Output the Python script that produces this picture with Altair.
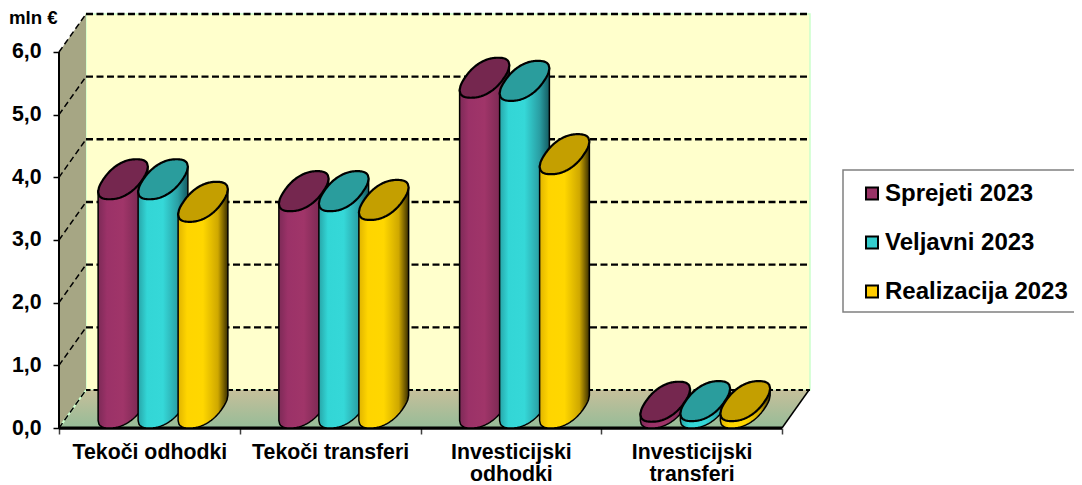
import altair as alt
import numpy as np
import pandas as pd

categories = ["Tekoči odhodki", "Tekoči transferi", "Investicijski\nodhodki", "Investicijski\ntransferi"]
series = ["Sprejeti 2023", "Veljavni 2023", "Realizacija 2023"]
sprejeti = [3.65, 3.46, 5.27, 0.10]
veljavni = [3.65, 3.46, 5.22, 0.11]
realizacija = [3.29, 3.32, 4.05, 0.11]
y_ticks = [0, 1, 2, 3, 4, 5, 6]
legend_colors = ["#993366", "#33CCCC", "#FFCC00"]
top_colors = ["#75274F", "#2A9D9D", "#C49F00"]
body_stops = [
    ["#7D2A57", "#9B3268", "#A03569", "#7E2A55", "#2B0F1F"],
    ["#27A5A8", "#33D6D6", "#35D8D8", "#2A9FA4", "#145A60"],
    ["#E0B400", "#FFD500", "#FFD700", "#CFA800", "#3A2E00"],
]
wall_color = "#A6A684"
back_color = "#FFFFCC"
edge_color = "#CCFFCC"
FONT = "Liberation Sans"

# plot geometry: pixels per unit of each scale, oblique depth of the floor
UX, UY = 180.75, 62.67
W, H = 751, 414
DX, DY = 27 / UX, 38 / UY
XMAX, YMAX = W / UX, H / UY
AX, BX, BY = 19.6 / UX, 13.5 / UX, 20 / UY   # floor circle in oblique view
HALF = 25 / UX
TILT = 11.4 / UY                             # y offset of tangent points
BAR_START, BAR_STEP = (98 - 59) / UX, 40 / UX
sx = alt.Scale(domain=[0, XMAX], nice=False, zero=False)
sy = alt.Scale(domain=[0, YMAX], nice=False, zero=False)
X = alt.X("x:Q", scale=sx, axis=None)
Y = alt.Y("y:Q", scale=sy, axis=None)
Y2 = alt.Y2("y2:Q")


def ellipse_bounds(cx, cy):
    # slightly squared ellipse, as the 3D renderer of the original draws it
    t = np.linspace(0, 2 * np.pi, 721)
    p = 0.86
    c = np.sign(np.cos(t)) * np.abs(np.cos(t)) ** p
    s = np.sign(np.sin(t)) * np.abs(np.sin(t)) ** p
    u = AX * c + BX * s
    v = BY * s
    i_max = np.argmax(u)
    order = np.roll(np.arange(len(t)), -i_max)
    u, v = u[order], v[order]
    split = np.argmin(u)
    u_up, v_up = u[:split + 1][::-1], v[:split + 1][::-1]
    u_lo, v_lo = u[split:], v[split:]
    xs = np.linspace(u.min(), u.max(), 61)
    return cx + xs, cy + np.interp(xs, u_lo, v_lo), cy + np.interp(xs, u_up, v_up)


def series_layers(values, idx):
    tops, bodies = [], []
    for c, v in enumerate(values):
        cx = c + BAR_START + HALF + idx * BAR_STEP
        base = BY
        xs, low, up = ellipse_bounds(cx, base + v)
        tops += [dict(x=a, y=b, y2=d, c=c) for a, b, d in zip(xs, low, up)]
        _, blow, _ = ellipse_bounds(cx, base)
        chord = base + v + TILT * (xs - cx) / HALF
        bodies += [dict(x=a, y=b, y2=d, c=c) for a, b, d in zip(xs, blow, chord)]
    stops = body_stops[idx]
    grad = alt.Gradient(
        gradient="linear", x1=0, x2=1, y1=0, y2=0,
        stops=[alt.GradientStop(offset=o, color=col)
               for o, col in zip([0, 0.18, 0.5, 0.8, 1], stops)],
    )
    body = alt.Chart(pd.DataFrame(bodies)).mark_area(
        fill=grad, stroke="black", strokeWidth=1.5, clip=False
    ).encode(x=X, y=Y, y2=Y2, detail="c:N")
    top = alt.Chart(pd.DataFrame(tops)).mark_area(
        fill=top_colors[idx], stroke="black", strokeWidth=2.2
    ).encode(x=X, y=Y, y2=Y2, detail="c:N")
    return [body, top]


def segs(rows):
    return pd.DataFrame([dict(x=x, y=y, k=k) for k, pts in enumerate(rows) for x, y in pts])


# back wall
back = alt.Chart(pd.DataFrame({"x": [DX], "x2": [XMAX], "y": [DY], "y2": [YMAX]})).mark_rect(
    fill=back_color, stroke=edge_color, strokeWidth=1.5
).encode(x=X, x2=alt.X2("x2:Q"), y=Y, y2=Y2)

# side wall
side = alt.Chart(pd.DataFrame({"x": [0, DX], "y": [0, DY], "y2": [6, 6 + DY]})).mark_area(
    fill=wall_color, stroke=None
).encode(x=X, y=Y, y2=Y2)

# floor
floor = alt.Chart(pd.DataFrame({"x": [0, DX, 4, 4 + DX], "y": [0, 0, 0, DY], "y2": [0, DY, DY, DY]})).mark_area(
    fill=alt.Gradient(gradient="linear", x1=0, x2=0, y1=0, y2=1,
                      stops=[alt.GradientStop(offset=0, color="#C6BF9A"),
                             alt.GradientStop(offset=1, color="#96BC98")]),
    stroke=None,
).encode(x=X, y=Y, y2=Y2)
floor_edge = alt.Chart(segs([[(0, 0), (DX, DY)]])).mark_line(color=edge_color, strokeWidth=2).encode(
    x=X, y=Y, detail="k:N"
)

# grid
grid_back = alt.Chart(segs([[(DX, t + DY), (XMAX, t + DY)] for t in y_ticks[1:]])).mark_line(
    color="black", strokeWidth=2.4, strokeDash=[7, 3.5]
).encode(x=X, y=Y, detail="k:N")
floor_back = alt.Chart(segs([[(DX, DY), (XMAX, DY)]])).mark_line(
    color="black", strokeWidth=1.8, strokeDash=[4.5, 3]
).encode(x=X, y=Y, detail="k:N")
grid_side = alt.Chart(segs([[(0, t), (DX, t + DY)] for t in y_ticks])).mark_line(
    color="black", strokeWidth=1.5, strokeDash=[6, 3.5]
).encode(x=X, y=Y, detail="k:N")

# front edges, y and x axes
axis_font = dict(labelFont=FONT, labelFontWeight="bold", labelFontSize=21.3, labelColor="black",
                 labelOverlap=False, labelFlush=False)
y_axis_line = alt.Chart(segs([[(0, 0), (0, 6)]])).mark_line(color="black", strokeWidth=2).encode(
    x=alt.X("x:Q", scale=sx, axis=alt.Axis(
        orient="bottom",
        values=[i + 0.5 for i in range(len(categories))], title=None, grid=False, domain=False, ticks=False,
        labelExpr="[" + ",".join("['" + c.replace("\n", "','") + "']" for c in categories) + "][floor(datum.value)]",
        labelPadding=13, labelLineHeight=22, labelAngle=0, **axis_font)),
    y=alt.Y("y:Q", scale=sy, axis=alt.Axis(
        orient="left",
        values=y_ticks, title=None, grid=False, domain=False, tickSize=6, tickColor="black", tickWidth=1.5,
        labelExpr="replace(format(datum.value,'.1f'),'.',',')", labelPadding=12, **axis_font)),
    detail="k:N",
)
x_line = alt.Chart(segs([[(0, 0), (4, 0)]])).mark_line(color="black", strokeWidth=3).encode(
    x=alt.X("x:Q", scale=sx, axis=alt.Axis(
        orient="bottom",
        values=list(range(len(categories) + 1)), title=None, grid=False, domain=False, labels=False,
        tickSize=6, tickColor="#404040", tickWidth=1.5)),
    y=Y, detail="k:N",
)
right_edge = alt.Chart(segs([[(4, 0), (4 + DX, DY)]])).mark_line(color="black", strokeWidth=1.5).encode(
    x=X, y=Y, detail="k:N"
)

# legend
legend_box = alt.Chart(pd.DataFrame({"a": [0]})).mark_rect(
    fill="white", stroke="#808080", strokeWidth=1.5
).encode(x=alt.value(784), x2=alt.value(1030), y=alt.value(156), y2=alt.value(298))
legend_layer = alt.Chart(pd.DataFrame({"s": series, "x": [0.0] * 3, "y": [0.0] * 3})).mark_square(
    size=0, stroke="black"
).encode(
    x=X, y=Y,
    color=alt.Color("s:N", scale=alt.Scale(domain=series, range=legend_colors), legend=alt.Legend(
        title=None, orient="none", legendX=801, legendY=168, padding=0,
        symbolType="square", symbolSize=144, symbolStrokeColor="black", symbolStrokeWidth=2, symbolOpacity=1,
        labelFont=FONT, labelFontWeight="bold", labelFontSize=24, labelColor="black", labelLimit=300,
        labelOffset=1, rowPadding=24, clipHeight=23)),
)

unit = alt.Chart(pd.DataFrame({"t": ["mln €"]})).mark_text(
    font=FONT, fontWeight="bold", fontSize=18.67, color="black", align="left", baseline="alphabetic"
).encode(x=alt.value(-50), y=alt.value(10), text="t:N")

layers = [y_axis_line, x_line, back, side, floor, floor_edge, grid_back, floor_back, grid_side]
# redraw axis lines over the walls
layers += [alt.Chart(segs([[(0, 0), (0, 6)]])).mark_line(color="black", strokeWidth=2).encode(x=X, y=Y, detail="k:N")]
layers += [alt.Chart(segs([[(0, 0), (4, 0)]])).mark_line(color="black", strokeWidth=3).encode(x=X, y=Y, detail="k:N")]
layers += [right_edge]
for i, vals in enumerate([sprejeti, veljavni, realizacija]):
    layers += series_layers(vals, i)
layers += [legend_box, legend_layer, unit]

chart = alt.layer(*layers).resolve_axis(x="independent", y="independent").resolve_scale(color="independent").properties(
    width=W, height=H,
    autosize=alt.AutoSizeParams(type="none"),
    padding={"left": 51, "top": 6, "right": 264, "bottom": 57},
    background="white",
).configure_view(stroke=None)

chart.save("out.html", embed_options={"renderer": "svg", "actions": False})
